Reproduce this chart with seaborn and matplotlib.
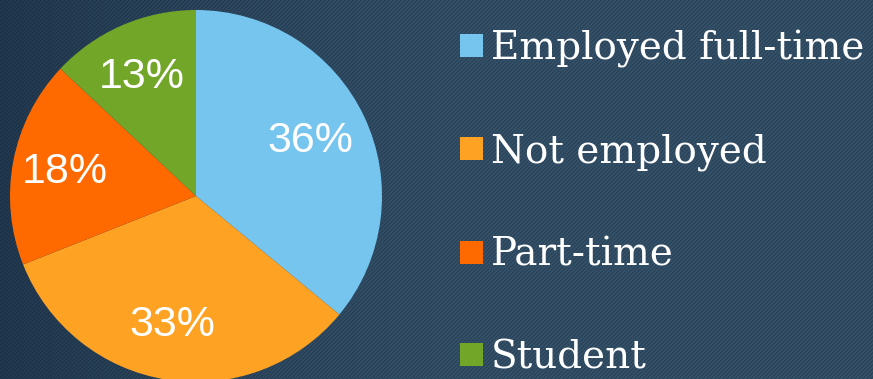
import numpy as np
import matplotlib
matplotlib.use("Agg")
import matplotlib.pyplot as plt
import matplotlib.transforms as mtransforms
import seaborn as sns

# Survey shares by employment status
categories = ["Employed full-time", "Not employed", "Part-time", "Student"]
shares = [36, 33, 18, 13]
slice_colors = ["#75c5ef", "#fea223", "#ff6a00", "#72a629"]

sns.set_theme(style="white")
plt.rcParams["font.family"] = ["Liberation Sans", "DejaVu Sans"]

W, H = 873, 379
fig = plt.figure(figsize=(W / 100, H / 100), dpi=100)

# Slate backdrop with a soft gradient and fine diagonal pinstripes
bg_ax = fig.add_axes([0, 0, 1, 1])
yy, xx = np.mgrid[0:H, 0:W]
base = np.array([0x34, 0x51, 0x6a]) / 255.0
dark = np.array([0x22, 0x3a, 0x51]) / 255.0
t = np.clip(1.0 - xx / (W * 0.55), 0, 1) ** 1.5
img = base[None, None, :] * (1 - t[..., None]) + dark[None, None, :] * t[..., None]
stripe = ((xx + yy) % 4) < 2
img = img * np.where(stripe, 0.86, 1.0)[..., None]
bg_ax.imshow(img, extent=[0, 1, 0, 1], aspect="auto", interpolation="nearest")
bg_ax.set_axis_off()

# Pie, starting at twelve o'clock and running clockwise
cx, cy, r = 196, 196, 186
ax = fig.add_axes([(cx - r) / W, (H - cy - r) / H, 2 * r / W, 2 * r / H])
wedges, texts, autotexts = ax.pie(
    shares,
    colors=slice_colors,
    startangle=90,
    counterclock=False,
    autopct="%d%%",
    pctdistance=0.70,
    radius=1.0,
    wedgeprops=dict(linewidth=0),
    textprops=dict(color="white", fontsize=31, family=["Liberation Sans", "DejaVu Sans"]),
)
label_shift = mtransforms.offset_copy(ax.transData, fig=fig, x=-3, y=0, units="dots")
for at in autotexts:
    at.set_transform(label_shift)
ax.set_xlim(-1, 1)
ax.set_ylim(-1, 1)
ax.set_aspect("auto")
ax.set_axis_off()

leg = ax.legend(
    wedges,
    categories,
    loc="upper left",
    bbox_to_anchor=(460 / W, 1 - 30 / H),
    bbox_transform=fig.transFigure,
    frameon=False,
    borderpad=0,
    borderaxespad=0,
    handlelength=0.59,
    handleheight=0.53,
    handletextpad=0.2,
    labelspacing=1.69,
    prop=dict(family=["DejaVu Serif"], size=28),
)
for txt in leg.get_texts():
    txt.set_color("white")

fig.savefig("out.png", dpi=100)
